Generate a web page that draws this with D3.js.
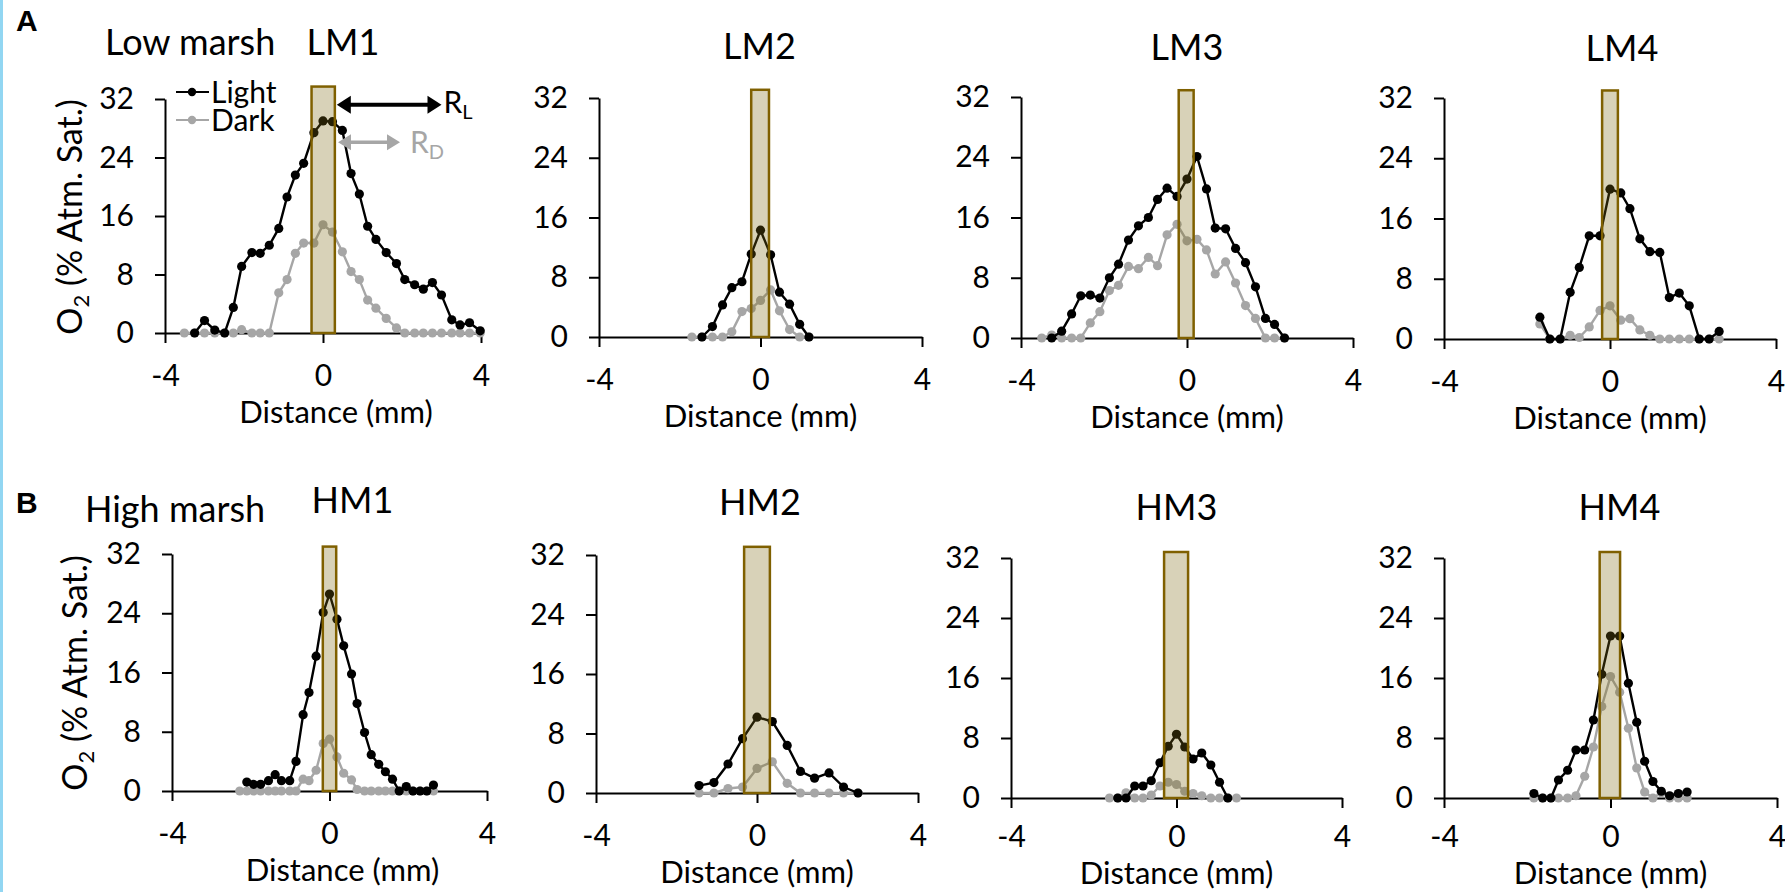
<!DOCTYPE html>
<html>
<head>
<meta charset="utf-8">
<script src="https://cdn.jsdelivr.net/npm/d3@7"></script>
<style>
body { margin: 0; background: #fff; }
svg text { font-family: Lato, "Open Sans", sans-serif; fill: #000; }
</style>
</head>
<body>
<div id="chart"></div>
<script>
// O2 profiles around single roots, light vs dark (distance in mm, % atm. sat.)
var lm1Dist  = [-3.51, -3.25, -3.0, -2.74, -2.49, -2.27, -2.06, -1.80, -1.59, -1.36, -1.12, -0.91, -0.70, -0.49, -0.23, 0, 0.24, 0.49, 0.71, 0.92, 1.13, 1.34, 1.60, 1.86, 2.07, 2.32, 2.54, 2.77, 3.0, 3.26, 3.47, 3.71, 3.98];
var lm1Light = [null, 0, 1.7, 0.4, 0, 3.5, 9.1, 11, 10.9, 12, 14.3, 18.6, 21.6, 23.2, 27.4, 29, 28.9, 27.7, 21.8, 19, 14.6, 12.8, 11, 9.5, 7.3, 6.6, 6, 6.9, 5.2, 1.8, 1.1, 1.4, 0.3];
var lm1Dark  = [0, 0, 0, 0, 0, 0, 0.45, 0, 0, 0, 5.5, 7.3, 10.9, 12.3, 12.3, 14.8, 13.8, 11.1, 8.4, 7.3, 4.5, 3.4, 2.0, 0.7, 0, 0, 0, 0, 0, 0, 0, 0, 0];

var lm2Dist  = [-1.70, -1.45, -1.19, -0.94, -0.71, -0.46, -0.23, 0, 0.25, 0.47, 0.72, 0.97, 1.20];
var lm2Light = [null, 0, 1.4, 4.3, 6.6, 7.4, 11.1, 14.3, 11.0, 6.0, 4.4, 1.7, 0];
var lm2Dark  = [0, 0, 0, 0, 0.7, 3.4, 3.8, 4.9, 6.3, 3.5, 1.0, 0, 0];

var lm3Dist  = [-3.50, -3.26, -3.02, -2.78, -2.56, -2.33, -2.10, -1.87, -1.65, -1.41, -1.17, -0.93, -0.71, -0.48, -0.24, 0, 0.24, 0.47, 0.68, 0.93, 1.17, 1.41, 1.65, 1.89, 2.11, 2.35];
var lm3Light = [null, 0, 0.9, 3.2, 5.6, 5.7, 5.3, 8.0, 9.8, 13.0, 14.9, 16.0, 18.4, 19.9, 18.8, 21.1, 24.1, 19.8, 14.6, 14.5, 11.9, 10.0, 6.8, 2.6, 1.8, 0];
var lm3Dark  = [0, 0.4, 0, 0, 0, 2.0, 3.5, 6.3, 7.0, 9.5, 9.2, 10.7, 9.6, 13.7, 15.1, 12.9, 13.1, 11.7, 8.5, 10.1, 7.3, 4.3, 2.6, 0, 0, 0];

var lm4Dist  = [-1.69, -1.45, -1.20, -0.96, -0.74, -0.50, -0.24, 0, 0.26, 0.48, 0.72, 0.96, 1.20, 1.43, 1.67, 1.91, 2.15, 2.39, 2.63];
var lm4Light = [2.9, 0, 0, 6.2, 9.5, 13.7, 13.7, 19.9, 19.4, 17.3, 13.3, 11.6, 11.5, 5.5, 6.1, 4.4, 0, 0, 1.0];
var lm4Dark  = [2.0, 0, 0, 0.5, 0.2, 1.6, 3.8, 4.4, 2.5, 2.7, 1.2, 0.5, 0, 0, 0, 0, 0, 0, 0];

var hm1Dist  = [-2.28, -2.1, -1.93, -1.75, -1.55, -1.38, -1.22, -1.01, -0.85, -0.67, -0.52, -0.34, -0.16, 0, 0.19, 0.36, 0.56, 0.70, 0.89, 1.06, 1.25, 1.42, 1.60, 1.77, 1.95, 2.12, 2.30, 2.47, 2.64];
var hm1Light = [null, 1.2, 0.9, 0.9, 1.4, 2.2, 1.4, 1.4, 4.0, 10.3, 13.3, 18.2, 24.1, 26.6, 23.2, 19.6, 15.8, 11.8, 7.9, 4.9, 3.6, 2.6, 1.6, 0, 0.6, 0, 0, 0, 0.8];
var hm1Dark  = [0, 0, 0, 0, 0, 0, 0, 0, 0, 1.6, 1.4, 2.8, 6.4, 7.0, 4.6, 2.4, 1.5, 0.2, 0, 0, 0, 0, 0, 0, 0, 0, 0, 0, 0];

var hm2Dist  = [-1.44, -1.07, -0.72, -0.36, 0, 0.38, 0.75, 1.08, 1.43, 1.79, 2.15, 2.51];
var hm2Light = [1.0, 1.4, 3.9, 7.3, 10.2, 9.6, 6.4, 2.9, 2.0, 2.7, 0.8, 0];
var hm2Dark  = [0, 0, 0.6, 0.8, 3.3, 4.2, 1.3, 0, 0, 0, 0, 0];

var hm3Dist  = [-1.62, -1.42, -1.22, -1.01, -0.81, -0.61, -0.40, -0.20, 0, 0.20, 0.40, 0.61, 0.83, 1.04, 1.24, 1.45];
var hm3Light = [null, 0, 0, 1.6, 1.6, 2.3, 4.7, 6.9, 8.5, 6.8, 5.2, 6.0, 4.4, 2.1, 0, null];
var hm3Dark  = [0, 0, 0.7, 0, 0, 0.4, 1.6, 2.1, 1.8, 0.9, 0.6, 0.3, 0, 0, 0, 0];

var hm4Dist  = [-1.84, -1.63, -1.43, -1.25, -1.03, -0.83, -0.62, -0.41, -0.21, 0, 0.22, 0.43, 0.63, 0.82, 1.02, 1.22, 1.42, 1.63, 1.84];
var hm4Light = [0.6, 0, 0, 2.4, 3.7, 6.4, 6.4, 10.4, 16.5, 21.6, 21.6, 15.3, 10.1, 4.9, 2.2, 0.9, 0.3, 0.6, 0.8];
var hm4Dark  = [0, 0, 0, 0, 0, 0.3, 2.9, 6.8, 12.2, 16.2, 14.1, 9.3, 4.0, 0.8, 0, 0.7, 0, 0, 0];

var panelNames = ['LM1', 'LM2', 'LM3', 'LM4', 'HM1', 'HM2', 'HM3', 'HM4'];
// root position (mm) and rectangle top (% sat.)
var rootLeft  = [-0.29, -0.23, -0.20, -0.19, -0.17, -0.32, -0.30, -0.26];
var rootRight = [0.30, 0.21, 0.16, 0.19, 0.17, 0.32, 0.28, 0.23];
var rootTop   = [33.7, 33.1, 32.9, 33, 33, 33.1, 32.8, 32.8];

var xTicks = [-4, 0, 4];
var yTicks = [0, 8, 16, 24, 32];
var seriesNames = ['Light', 'Dark'];

var dists  = [lm1Dist, lm2Dist, lm3Dist, lm4Dist, hm1Dist, hm2Dist, hm3Dist, hm4Dist];
var lights = [lm1Light, lm2Light, lm3Light, lm4Light, hm1Light, hm2Light, hm3Light, hm4Light];
var darks  = [lm1Dark, lm2Dark, lm3Dark, lm4Dark, hm1Dark, hm2Dark, hm3Dark, hm4Dark];

// pixel boxes of each panel (x=-4..4, y=0..32)
var layout = [
    { left: 165, right: 481, top: 99, bottom: 333, titleDx: 20 },
    { left: 599, right: 922, top: 98, bottom: 337, titleDx: -1 },
    { left: 1021, right: 1353, top: 97, bottom: 338, titleDx: 0 },
    { left: 1444, right: 1776, top: 98, bottom: 339, titleDx: 12 },
    { left: 172, right: 487, top: 554, bottom: 791, titleDx: 23 },
    { left: 596, right: 918, top: 555, bottom: 793, titleDx: 3 },
    { left: 1011, right: 1342, top: 558, bottom: 798, titleDx: 0 },
    { left: 1444, right: 1777, top: 558, bottom: 798, titleDx: 9 }
];

var colors = { Light: '#000000', Dark: '#a6a6a6' };

var svg = d3.select('#chart').append('svg')
    .attr('width', 1785)
    .attr('height', 892);

svg.append('rect')
    .attr('x', 0).attr('y', 0)
    .attr('width', 3).attr('height', 892)
    .attr('fill', '#92d6f2');

function drawPanel(i) {
    var box = layout[i];
    var x = d3.scaleLinear().domain([-4, 4]).range([box.left, box.right]);
    var y = d3.scaleLinear().domain([0, 32]).range([box.bottom, box.top]);
    var g = svg.append('g').attr('class', 'panel');

    // x label sits 90px under the axis but stays inside the bottom edge
    var labelY = Math.min(box.bottom + 90, 884);
    var pad = Math.min(23, labelY - box.bottom - 68);

    var xAxis = g.append('g')
        .attr('transform', 'translate(0,' + y(0) + ')')
        .call(d3.axisBottom(x).tickValues(xTicks).tickSize(10).tickSizeOuter(0).tickPadding(pad)
            .tickFormat(function(d) { return d < 0 ? '-' + Math.abs(d) : d; }));
    var yAxis = g.append('g')
        .attr('transform', 'translate(' + x(-4) + ',0)')
        .call(d3.axisLeft(y).tickValues(yTicks).tickSize(10).tickSizeOuter(0).tickPadding(21));

    [xAxis, yAxis].forEach(function(a) {
        a.select('.domain').attr('stroke', '#000').attr('stroke-width', 2);
        a.selectAll('.tick line').attr('stroke', '#000').attr('stroke-width', 2);
        a.selectAll('.tick text').style('font-size', '30px').attr('fill', '#000');
    });
    xAxis.selectAll('.tick text').attr('dy', '0.71em');

    var series = [
        { name: 'Dark', values: darks[i] },
        { name: 'Light', values: lights[i] }
    ];
    var line = d3.line()
        .defined(function(d) { return d.v !== null; })
        .x(function(d) { return x(d.x); })
        .y(function(d) { return y(d.v); });

    series.forEach(function(s) {
        var pts = dists[i].map(function(d, k) { return { x: d, v: s.values[k] }; });
        g.append('path')
            .attr('d', line(pts))
            .attr('fill', 'none')
            .attr('stroke', colors[s.name])
            .attr('stroke-width', 2.4);
        g.selectAll('circle.' + s.name)
            .data(pts.filter(function(d) { return d.v !== null; }))
            .enter().append('circle')
            .attr('class', s.name)
            .attr('cx', function(d) { return x(d.x); })
            .attr('cy', function(d) { return y(d.v); })
            .attr('r', 4.6)
            .attr('fill', colors[s.name]);
    });

    // root cross-section, drawn translucent on top
    g.append('rect')
        .attr('x', x(rootLeft[i]))
        .attr('y', y(rootTop[i]))
        .attr('width', x(rootRight[i]) - x(rootLeft[i]))
        .attr('height', y(0) - y(rootTop[i]))
        .attr('fill', '#7d6914')
        .attr('fill-opacity', 0.3)
        .attr('stroke', '#7f6000')
        .attr('stroke-width', 2.5);

    // title
    g.append('text')
        .attr('x', x(0) + box.titleDx)
        .attr('y', box.bottom - 278)
        .attr('text-anchor', 'middle')
        .style('font-size', '36px')
        .text(panelNames[i]);

    g.append('text')
        .attr('x', x(0) + (i % 4 === 0 ? 13 : 0))
        .attr('y', labelY)
        .attr('text-anchor', 'middle')
        .style('font-size', '31px')
        .text('Distance (mm)');

    return { x: x, y: y };
}

var scales = panelNames.map(function(n, i) { return drawPanel(i); });

// y-axis titles on first column
[[70, 217], [75, 673]].forEach(function(p) {
    var t = svg.append('text')
        .attr('transform', 'translate(' + p[0] + ',' + p[1] + ') rotate(-90)')
        .attr('text-anchor', 'middle')
        .attr('dy', '0.35em')
        .style('font-size', '34px');
    t.append('tspan').text('O');
    t.append('tspan').attr('dy', 7).style('font-size', '22px').text('2');
    t.append('tspan').attr('dy', -7).text(' (% Atm. Sat.)');
});

// panel letters and row labels
svg.append('text').attr('x', 16).attr('y', 31)
    .style('font-family', '"Liberation Sans", Arial, sans-serif')
    .style('font-weight', 'bold').style('font-size', '30px').text('A');
svg.append('text').attr('x', 16).attr('y', 513)
    .style('font-family', '"Liberation Sans", Arial, sans-serif')
    .style('font-weight', 'bold').style('font-size', '30px').text('B');
svg.append('text').attr('x', 105).attr('y', 55).style('font-size', '36px').text('Low marsh');
svg.append('text').attr('x', 85).attr('y', 522).style('font-size', '36px').text('High marsh');

// legend in LM1
var legend = svg.append('g');
seriesNames.forEach(function(n, k) {
    var ly = 92 + k * 28;
    legend.append('line')
        .attr('x1', 176).attr('x2', 209).attr('y1', ly).attr('y2', ly)
        .attr('stroke', colors[n]).attr('stroke-width', 2);
    legend.append('circle').attr('cx', 192).attr('cy', ly).attr('r', 4.2).attr('fill', colors[n]);
    legend.append('text')
        .attr('x', 211).attr('y', ly)
        .attr('dy', '0.36em')
        .style('font-size', '30px')
        .text(n);
});

// radial extent arrows in LM1
function doubleArrow(x1, x2, yy, col, w, headL, headH) {
    svg.append('line')
        .attr('x1', x1 + headL - 1).attr('x2', x2 - headL + 1)
        .attr('y1', yy).attr('y2', yy)
        .attr('stroke', col).attr('stroke-width', w);
    svg.append('path')
        .attr('d', 'M' + x1 + ',' + yy + 'L' + (x1 + headL) + ',' + (yy - headH / 2) + 'L' + (x1 + headL) + ',' + (yy + headH / 2) + 'Z')
        .attr('fill', col);
    svg.append('path')
        .attr('d', 'M' + x2 + ',' + yy + 'L' + (x2 - headL) + ',' + (yy - headH / 2) + 'L' + (x2 - headL) + ',' + (yy + headH / 2) + 'Z')
        .attr('fill', col);
}
var s0 = scales[0];
doubleArrow(s0.x(0.35), s0.x(3.0), s0.y(31.2), '#000', 4, 14, 18);
doubleArrow(s0.x(0.38), s0.x(1.95), s0.y(26.1), '#a6a6a6', 3.5, 13, 16);

function subLabel(xx, yy, main, sub, col) {
    var t = svg.append('text').attr('x', xx).attr('y', yy).attr('fill', col).style('fill', col)
        .style('font-size', '30px');
    t.append('tspan').text(main);
    t.append('tspan').attr('dy', 6).style('font-size', '20px').text(sub);
}
subLabel(s0.x(3.05), 113, 'R', 'L', '#000');
subLabel(s0.x(2.2), 153, 'R', 'D', '#a6a6a6');
</script>
</body>
</html>
